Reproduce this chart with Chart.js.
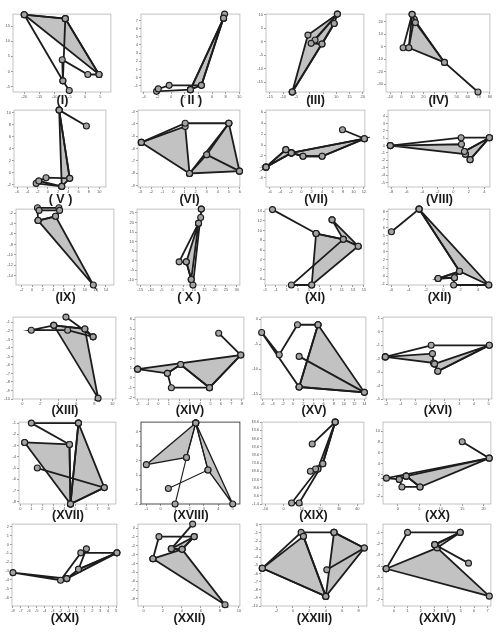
<!DOCTYPE html>
<html>
<head>
<meta charset="utf-8">
<script src="https://cdn.jsdelivr.net/npm/chart.js@4.4.0/dist/chart.umd.min.js"></script>
<style>
  body { margin: 0; background: #fff; width: 500px; height: 636px; position: relative; overflow: hidden;
         font-family: "Liberation Sans", Arial, sans-serif; }
  .p { position: absolute; }
  .t { position: absolute; width: 90px; margin-left: -45px; text-align: center; font-size: 12.5px;
       font-weight: bold; line-height: 14px; color: #1a1a1a; }
</style>
</head>
<body>
<script>
// panel names
const names = ['(I)', '( II )', '(III)', '(IV)', '( V )', '(VI)', '(VII)', '(VIII)',
  '(IX)', '( X )', '(XI)', '(XII)', '(XIII)', '(XIV)', '(XV)', '(XVI)',
  '(XVII)', '(XVIII)', '(XIX)', '(XX)', '(XXI)', '(XXII)', '(XXIII)', '(XXIV)'];

// open polyline of each panel, filled polygons, axis [xmin, xmax, xstep, ymin, ymax, ystep]
const pathI = [[-5.2,-6.3],[-7.3,-3.1],[-20,18.8],[-6.5,17.5],[4.6,-1],[0.9,-1],[-7.5,3.9],[-7.3,-3.1],[-6.5,17.5]];
const fillI = [[[-20,18.8],[-6.5,17.5],[4.6,-1]]];
const axisI = [-23.7, 8.5, 5, -6.8, 19, 5];

const pathII = [[2.83,-1.49],[-2.15,-1.7],[-1.9,-1.4],[-0.3,-0.96],[4.44,-0.96],[7.85,7.8],[7.7,7.3],[2.83,-1.49]];
const fillII = [[[7.7,7.3],[4.44,-0.96],[2.83,-1.49]]];
const axisII = [-4.44, 10.1, 2, -1.78, 7.8, 1];

const pathIII = [[2.0,0.6],[10.4,10.2],[0.5,-0.65],[4.6,-0.9],[9.2,6.7],[-6.6,-18.7]];
const fillIII = [[[-6.6,-18.7],[-0.7,2.4],[10.4,10.2],[9.2,6.7],[4.6,-0.9]]];
const axisIII = [-16.5, 20.4, 5, -18.7, 10.2, 5];

const pathIV = [[69.2,-36.4],[38.9,-12.7],[12.6,19.2],[9.6,25.8],[1.5,-1],[6.6,-1],[9.6,25.8]];
const fillIV = [[[11.4,21.9],[6.6,-1],[38.9,-12.7]]];
const axisIV = [-14, 80, 10, -36.4, 26, 10];

const pathV = [[7.5,7.75],[2.2,10.4],[4.25,-0.96],[-0.36,-0.85],[-1.77,-1.4],[2.7,-2.3],[-2.28,-1.8],[-1.77,-1.4]];
const fillV = [[[2.2,10.4],[4.25,-0.96],[2.7,-2.3]]];
const axisV = [-6.6, 11.3, 2, -2.4, 10.4, 2];

const pathVI = [[-2.9,-5.5],[1.06,-3.94],[5.0,-3.94],[3.0,-6.5],[5.96,-7.84],[3.0,-6.5],[1.45,-8.03]];
const fillVI = [[[-2.9,-5.5],[1.06,-4.2],[1.45,-8.03]], [[5.0,-3.94],[5.96,-7.84],[1.45,-8.03]]];
const axisVI = [-3.2, 6.0, 1, -9.13, -2.87, 1];

const pathVII = [[7.9,2.8],[12.1,1.15],[-1.9,-1.45],[-2.96,-0.85],[-6.76,-4.06],[-1.9,-1.45],[0.33,-2.06],[4.0,-2.06],[12.1,1.15]];
const fillVII = [[[-6.76,-4.06],[-2.96,-0.85],[-1.9,-1.45]], [[-1.9,-1.45],[12.1,1.15],[4.0,-2.06],[0.33,-2.06]]];
const axisVII = [-6.76, 12.2, 2, -7.7, 6.4, 2];

const pathVIII = [[-8.13,0],[1.01,1.07],[4.66,1.07],[2.17,-1.9],[1.57,-1.16],[1.44,-0.8],[4.66,1.07]];
const fillVIII = [[[-8.13,0],[1.06,0.18],[1.57,-1.16]], [[1.44,-0.8],[4.66,1.07],[2.17,-1.9]]];
const axisVIII = [-8.43, 4.73, 2, -5.6, 4.8, 1];

const pathIX = [[5.06,-1.0],[1.0,-1.0],[1.13,-3.44],[4.44,-2.63],[5.2,-1.5],[1.31,-1.5]];
const fillIX = [[[1.13,-3.44],[4.44,-2.63],[11.6,-15.75]]];
const axisIX = [-3.06, 15.5, 2, -15.75, -1.25, 2];

const pathX = [[13.5,27],[9.6,-12.7],[8.8,-9.85],[6.5,-0.6],[3.15,-0.6],[12.2,19.6],[13.2,22.6],[13.5,27]];
const fillX = [[[12.2,19.6],[6.5,-0.6],[8.8,-9.85]]];
const axisX = [-16.5, 31.5, 5, -12.7, 27, 5];

const pathXI = [[-1.64,14.3],[6.3,9.4],[11.25,8.2],[1.8,-1.15],[5.5,-1.15]];
const fillXI = [[[6.3,9.4],[11.25,8.2],[13.96,6.8],[5.5,-1.15]], [[9.2,12.2],[13.96,6.8],[11.25,8.2]]];
const axisXI = [-3.0, 15.0, 2, -1.15, 14.4, 2];

const pathXII = [[-6.0,5.5],[-2.8,8.3],[1.88,0.6],[-0.6,-0.3],[1.3,-0.2],[1.2,-1.1],[5.27,-1.1]];
const fillXII = [[[-2.8,8.3],[1.88,0.6],[5.27,-1.1]], [[-0.6,-0.3],[1.88,0.6],[1.3,-0.2]]];
const axisXII = [-6.4, 5.4, 2, -1.1, 8.3, 1];

const pathXIII = [[4.85,-0.38],[7.87,-2.7],[6.95,-1.77],[3.5,-1.35],[1.0,-1.92],[5.04,-1.92],[7.87,-2.7]];
const fillXIII = [[[3.5,-1.35],[6.95,-1.77],[8.42,-9.9]]];
const axisXIII = [-1.03, 10.4, 2, -10, -0.38, 1];

const pathXIV = [[5.78,4.58],[7.9,2.34],[4.9,-1.0],[1.24,-1.0],[0.86,0.47],[2.13,1.37],[4.9,-1.0]];
const fillXIV = [[[-2.0,0.9],[7.9,2.34],[4.9,-1.0],[2.13,1.37],[0.86,0.47]]];
const axisXIV = [-2.25, 8.2, 1, -2.16, 6.23, 1];

const pathXV = [[1.17,-7.47],[14,-14.67],[1.17,-13.6],[-6.2,-2.67],[-2.74,-7.13],[0.84,-1.13],[4.88,-1.13],[1.17,-13.6]];
const fillXV = [[[4.88,-1.13],[14,-14.67],[1.17,-13.6]]];
const axisXV = [-6.33, 14.3, 2, -16, 0.4, 5];

const pathXVI = [[-2.07,-1.88],[1.07,-1.02],[5.05,-1.02],[1.52,-2.94],[1.3,-2.4]];
const fillXVI = [[[-2.07,-1.88],[1.16,-1.64],[1.23,-2.33]], [[1.3,-2.4],[5.05,-1.02],[1.52,-2.94]]];
const axisXVI = [-2.23, 5.23, 1, -5.0, 1.07, 1];

const pathXVII = [[1.54,-5.0],[7.62,-6.74],[4.55,-8.2],[4.46,-2.9],[1.0,-1.0],[5.27,-1.0],[4.55,-8.2]];
const fillXVII = [[[0.39,-2.72],[4.46,-2.9],[4.55,-8.2]], [[5.27,-1.0],[7.62,-6.74],[4.55,-8.2]]];
const axisXVII = [-0.12, 8.67, 1, -8.2, -0.91, 1];

const pathXVIII = [[0.53,0.07],[3.28,1.36],[2.43,4.61],[1.79,2.23],[1.0,-1.0]];
const fillXVIII = [[[2.43,4.61],[1.79,2.23],[-1.0,1.73]], [[2.43,4.61],[5.0,-1.0],[3.28,1.36]]];
const axisXVIII = [-1.37, 5.5, 1, -1.0, 4.68, 1];

const pathXIX = [[15.5,35.2],[28.0,48.6],[21.25,23.2],[8.4,-0.8],[4.3,-0.8],[18.6,20],[17.3,20],[14.5,18.6]];
const fillXIX = [[[28.0,48.6],[18.6,20],[21.25,23.2]]];
const axisXIX = [-11.8, 43.6, 10, -1.4, 48.6, 5];

const pathXX = [[15.0,8.06],[21.3,5.03],[-2.7,1.33],[0.3,1.1],[1.92,1.7],[5.15,-0.3],[0.92,-0.3],[0.3,1.1]];
const fillXX = [[[1.92,1.7],[21.3,5.03],[5.15,-0.3]]];
const axisXX = [-3.5, 21.7, 5, -3.45, 11.7, 2];

const pathXXI = [[-1.22,-3.86],[-8.0,-3.19],[-2.0,-4.05],[0.55,-0.95],[5.1,-0.95],[0.26,-2.81],[1.26,-0.5]];
const fillXXI = [[[-1.22,-3.86],[5.1,-0.95],[0.26,-2.81]]];
const axisXXI = [-8.12, 5.1, 1, -6.96, 2.3, 1];

const pathXXII = [[5.14,0.45],[2.9,-2.34],[4.03,-2.4],[5.3,-0.97],[1.6,-0.97],[0.97,-3.46]];
const fillXXII = [[[0.97,-3.46],[4.03,-2.4],[8.54,-8.66]], [[2.9,-2.34],[5.3,-0.97],[4.03,-2.4]]];
const axisXXII = [-0.6, 10.1, 2, -8.8, 0.45, 1];

const pathXXIII = [[4.12,-5.55],[8.68,-2.86],[5.0,-0.94],[1.0,-0.94],[-3.72,-5.35],[4.0,-8.82],[1.28,-1.43]];
const fillXXIII = [[[-3.72,-5.35],[1.28,-1.43],[4.0,-8.82]], [[5.0,-0.94],[8.68,-2.86],[4.0,-8.82]]];
const axisXXIII = [-3.88, 9.0, 2, -10, 0.08, 1];

const pathXXIV = [[-0.6,-4.24],[1.0,-1.0],[4.95,-1.0],[3.04,-2.09],[5.57,-3.74]];
const fillXXIV = [[[-0.6,-4.24],[3.22,-2.38],[7.13,-6.68]], [[3.04,-2.09],[4.95,-1.0],[3.22,-2.38]]];
const axisXXIV = [-0.84, 7.25, 1, -7.56, -0.26, 1];

const panels = [
  [pathI, fillI, axisI], [pathII, fillII, axisII], [pathIII, fillIII, axisIII], [pathIV, fillIV, axisIV],
  [pathV, fillV, axisV], [pathVI, fillVI, axisVI], [pathVII, fillVII, axisVII], [pathVIII, fillVIII, axisVIII],
  [pathIX, fillIX, axisIX], [pathX, fillX, axisX], [pathXI, fillXI, axisXI], [pathXII, fillXII, axisXII],
  [pathXIII, fillXIII, axisXIII], [pathXIV, fillXIV, axisXIV], [pathXV, fillXV, axisXV], [pathXVI, fillXVI, axisXVI],
  [pathXVII, fillXVII, axisXVII], [pathXVIII, fillXVIII, axisXVIII], [pathXIX, fillXIX, axisXIX], [pathXX, fillXX, axisXX],
  [pathXXI, fillXXI, axisXXI], [pathXXII, fillXXII, axisXXII], [pathXXIII, fillXXIII, axisXXIII], [pathXXIV, fillXXIV, axisXXIV]
];

// layout: plot box of each panel [left, top, right, bottom] in page pixels
const boxes = [
  [13, 13, 112, 92], [141, 13, 241, 92], [266, 13, 365, 92], [386, 13, 491, 92],
  [14, 109, 107, 187], [138, 109, 241, 187], [266, 109, 366, 187], [388, 109, 491, 187],
  [16, 208, 115, 285], [137, 208, 241, 285], [265, 208, 365, 285], [388, 208, 491, 285],
  [13, 316, 117, 399], [135, 316, 245, 399], [261, 316, 367, 399], [383, 316, 493, 399],
  [19, 421, 117, 504], [141, 421, 241, 504], [262, 421, 365, 504], [383, 421, 492, 504],
  [12, 523, 118, 606], [138, 523, 241, 606], [261, 523, 368, 606], [383, 523, 492, 606]
];
const labelY = [100, 199, 297, 410, 515, 618];

const YW = 10, XH = 8, PAD = 4;

const framePlugin = {
  id: 'frame',
  beforeDatasetsDraw(chart) {
    const a = chart.chartArea;
    const ctx = chart.ctx;
    ctx.save();
    ctx.strokeStyle = chart.options.frameColor || '#b4b4b4';
    ctx.lineWidth = 0.8;
    ctx.strokeRect(a.left, a.top, a.right - a.left, a.bottom - a.top);
    ctx.restore();
  }
};

const toXY = pts => pts.map(([x, y]) => ({ x, y }));

panels.forEach((p, i) => {
  const [path, fills, ax] = p;
  const [l, t, r, b] = boxes[i];
  const thin = i === 17;

  const div = document.createElement('div');
  div.className = 'p';
  div.style.left = (l - YW) + 'px';
  div.style.top = (t - PAD) + 'px';
  div.style.width = (r - l + YW + PAD) + 'px';
  div.style.height = (b - t + XH + PAD) + 'px';
  const cv = document.createElement('canvas');
  div.appendChild(cv);
  document.body.appendChild(div);

  const pointStyle = {
    pointRadius: 3, pointBackgroundColor: '#a3a3a3', pointBorderColor: '#1c1c1c', pointBorderWidth: 1.1
  };
  const datasets = [{
    data: toXY(path), showLine: true, fill: false, borderColor: '#1c1c1c',
    borderWidth: thin ? 1.1 : 1.8, clip: false, ...pointStyle
  }];
  fills.forEach(f => {
    datasets.push({
      data: toXY([...f, f[0]]), showLine: true, fill: 'shape', backgroundColor: '#c2c2c2',
      borderColor: '#1c1c1c', borderWidth: thin ? 1.3 : 1.8, clip: false, ...pointStyle
    });
  });

  const tickFont = { size: 4, family: 'Liberation Sans' };
  new Chart(cv, {
    type: 'scatter',
    data: { datasets },
    options: {
      responsive: true,
      maintainAspectRatio: false,
      animation: false,
      events: [],
      frameColor: thin ? '#222' : '#b4b4b4',
      layout: { padding: { top: PAD, right: PAD, left: 0, bottom: 0 } },
      plugins: { legend: { display: false }, tooltip: { enabled: false } },
      scales: {
        x: {
          type: 'linear', min: ax[0], max: ax[1],
          afterFit: s => { s.height = XH; },
          border: { display: false },
          grid: { drawOnChartArea: false, tickLength: 2, color: '#999' },
          ticks: { stepSize: ax[2], includeBounds: false, font: tickFont, color: '#555',
                   padding: 0, maxRotation: 0, autoSkip: false }
        },
        y: {
          type: 'linear', min: ax[3], max: ax[4],
          afterFit: s => { s.width = YW; },
          border: { display: false },
          grid: { drawOnChartArea: false, tickLength: 2, color: '#999' },
          ticks: { stepSize: ax[5], includeBounds: false, font: tickFont, color: '#555',
                   padding: 1, autoSkip: false }
        }
      }
    },
    plugins: [framePlugin]
  });

  const lab = document.createElement('div');
  lab.className = 't';
  lab.textContent = names[i];
  lab.style.left = ((l + r) / 2) + 'px';
  lab.style.top = (labelY[Math.floor(i / 4)] - 7) + 'px';
  document.body.appendChild(lab);
});
</script>
</body>
</html>
